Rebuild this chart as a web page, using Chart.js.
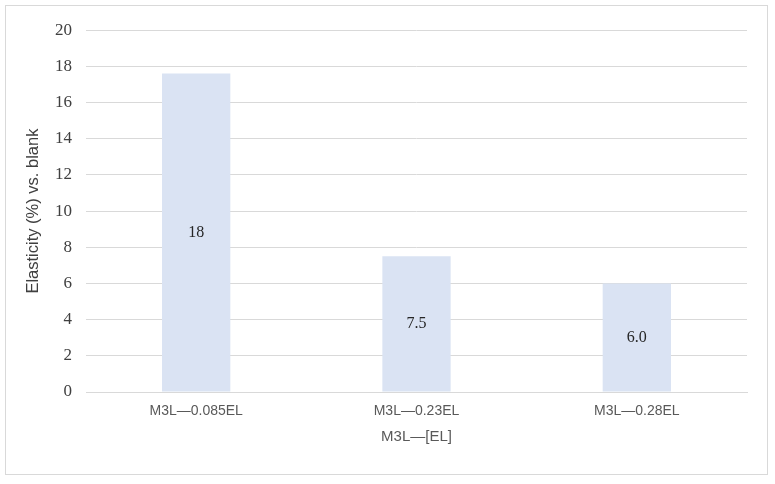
<!DOCTYPE html>
<html>
<head>
<meta charset="utf-8">
<script src="https://cdn.jsdelivr.net/npm/chart.js@4"></script>
<style>
  html, body { margin: 0; padding: 0; background: #fff; }
  #box {
    position: absolute; left: 5px; top: 5px;
    width: 761px; height: 468px;
    border: 1px solid #d9d9d9;
  }
</style>
</head>
<body>
<div id="box"><canvas id="elastChart" width="761" height="468"></canvas></div>
<script>
// Categorias e valores
const categories = ["M3L\u20140.085EL", "M3L\u20140.23EL", "M3L\u20140.28EL"];
const elasticity = [17.6, 7.5, 6.0];
const barLabels = ["18", "7.5", "6.0"];
const yTicks = [0, 2, 4, 6, 8, 10, 12, 14, 16, 18, 20];

// Escreve o rótulo no meio de cada barra
const barText = {
    id: 'barText',
    afterDatasetsDraw(chart) {
        const { ctx } = chart;
        const meta = chart.getDatasetMeta(0);
        ctx.save();
        ctx.font = '16px "Liberation Serif", "Times New Roman", serif';
        ctx.fillStyle = '#262626';
        ctx.textAlign = 'center';
        ctx.textBaseline = 'middle';
        meta.data.forEach((bar, i) => {
            const mid = (bar.y + bar.base) / 2;
            ctx.fillText(barLabels[i], bar.x, mid);
        });
        ctx.restore();
    }
};

const ctx = document.getElementById('elastChart').getContext('2d');
new Chart(ctx, {
    type: 'bar',
    data: {
        labels: categories,
        datasets: [{
            data: elasticity,
            backgroundColor: '#dae3f3',
            borderWidth: 0,
            categoryPercentage: 1,
            barPercentage: 0.31
        }]
    },
    options: {
        responsive: false,
        animation: false,
        layout: { padding: { top: 19, right: 20, bottom: 0, left: 0 } },
        scales: {
            x: {
                afterFit: (s) => { s.height = 82; },
                grid: { display: false, drawTicks: false },
                border: { color: '#d9d9d9', width: 1 },
                ticks: {
                    padding: 11,
                    color: '#595959',
                    font: { family: '"Liberation Sans", Arial, sans-serif', size: 14 }
                },
                title: {
                    display: true,
                    text: 'M3L\u2014[EL]',
                    color: '#595959',
                    font: { family: '"Liberation Sans", Arial, sans-serif', size: 15 },
                    padding: { top: 0, bottom: 28 }
                }
            },
            y: {
                min: 0,
                max: 20,
                afterFit: (s) => { s.width = 80; },
                afterBuildTicks: (s) => { s.ticks = yTicks.map(v => ({ value: v })); },
                grid: { color: '#d9d9d9', drawTicks: false },
                border: { display: false },
                ticks: {
                    padding: 14,
                    color: '#404040',
                    font: { family: '"Liberation Serif", "Times New Roman", serif', size: 17 }
                },
                title: {
                    display: true,
                    text: 'Elasticity (%) vs. blank',
                    color: '#404040',
                    font: { family: '"Liberation Sans", Arial, sans-serif', size: 16.5 },
                    padding: { top: 18, bottom: 0 }
                }
            }
        },
        plugins: {
            legend: { display: false },
            tooltip: { enabled: false }
        }
    },
    plugins: [barText]
});
</script>
</body>
</html>
